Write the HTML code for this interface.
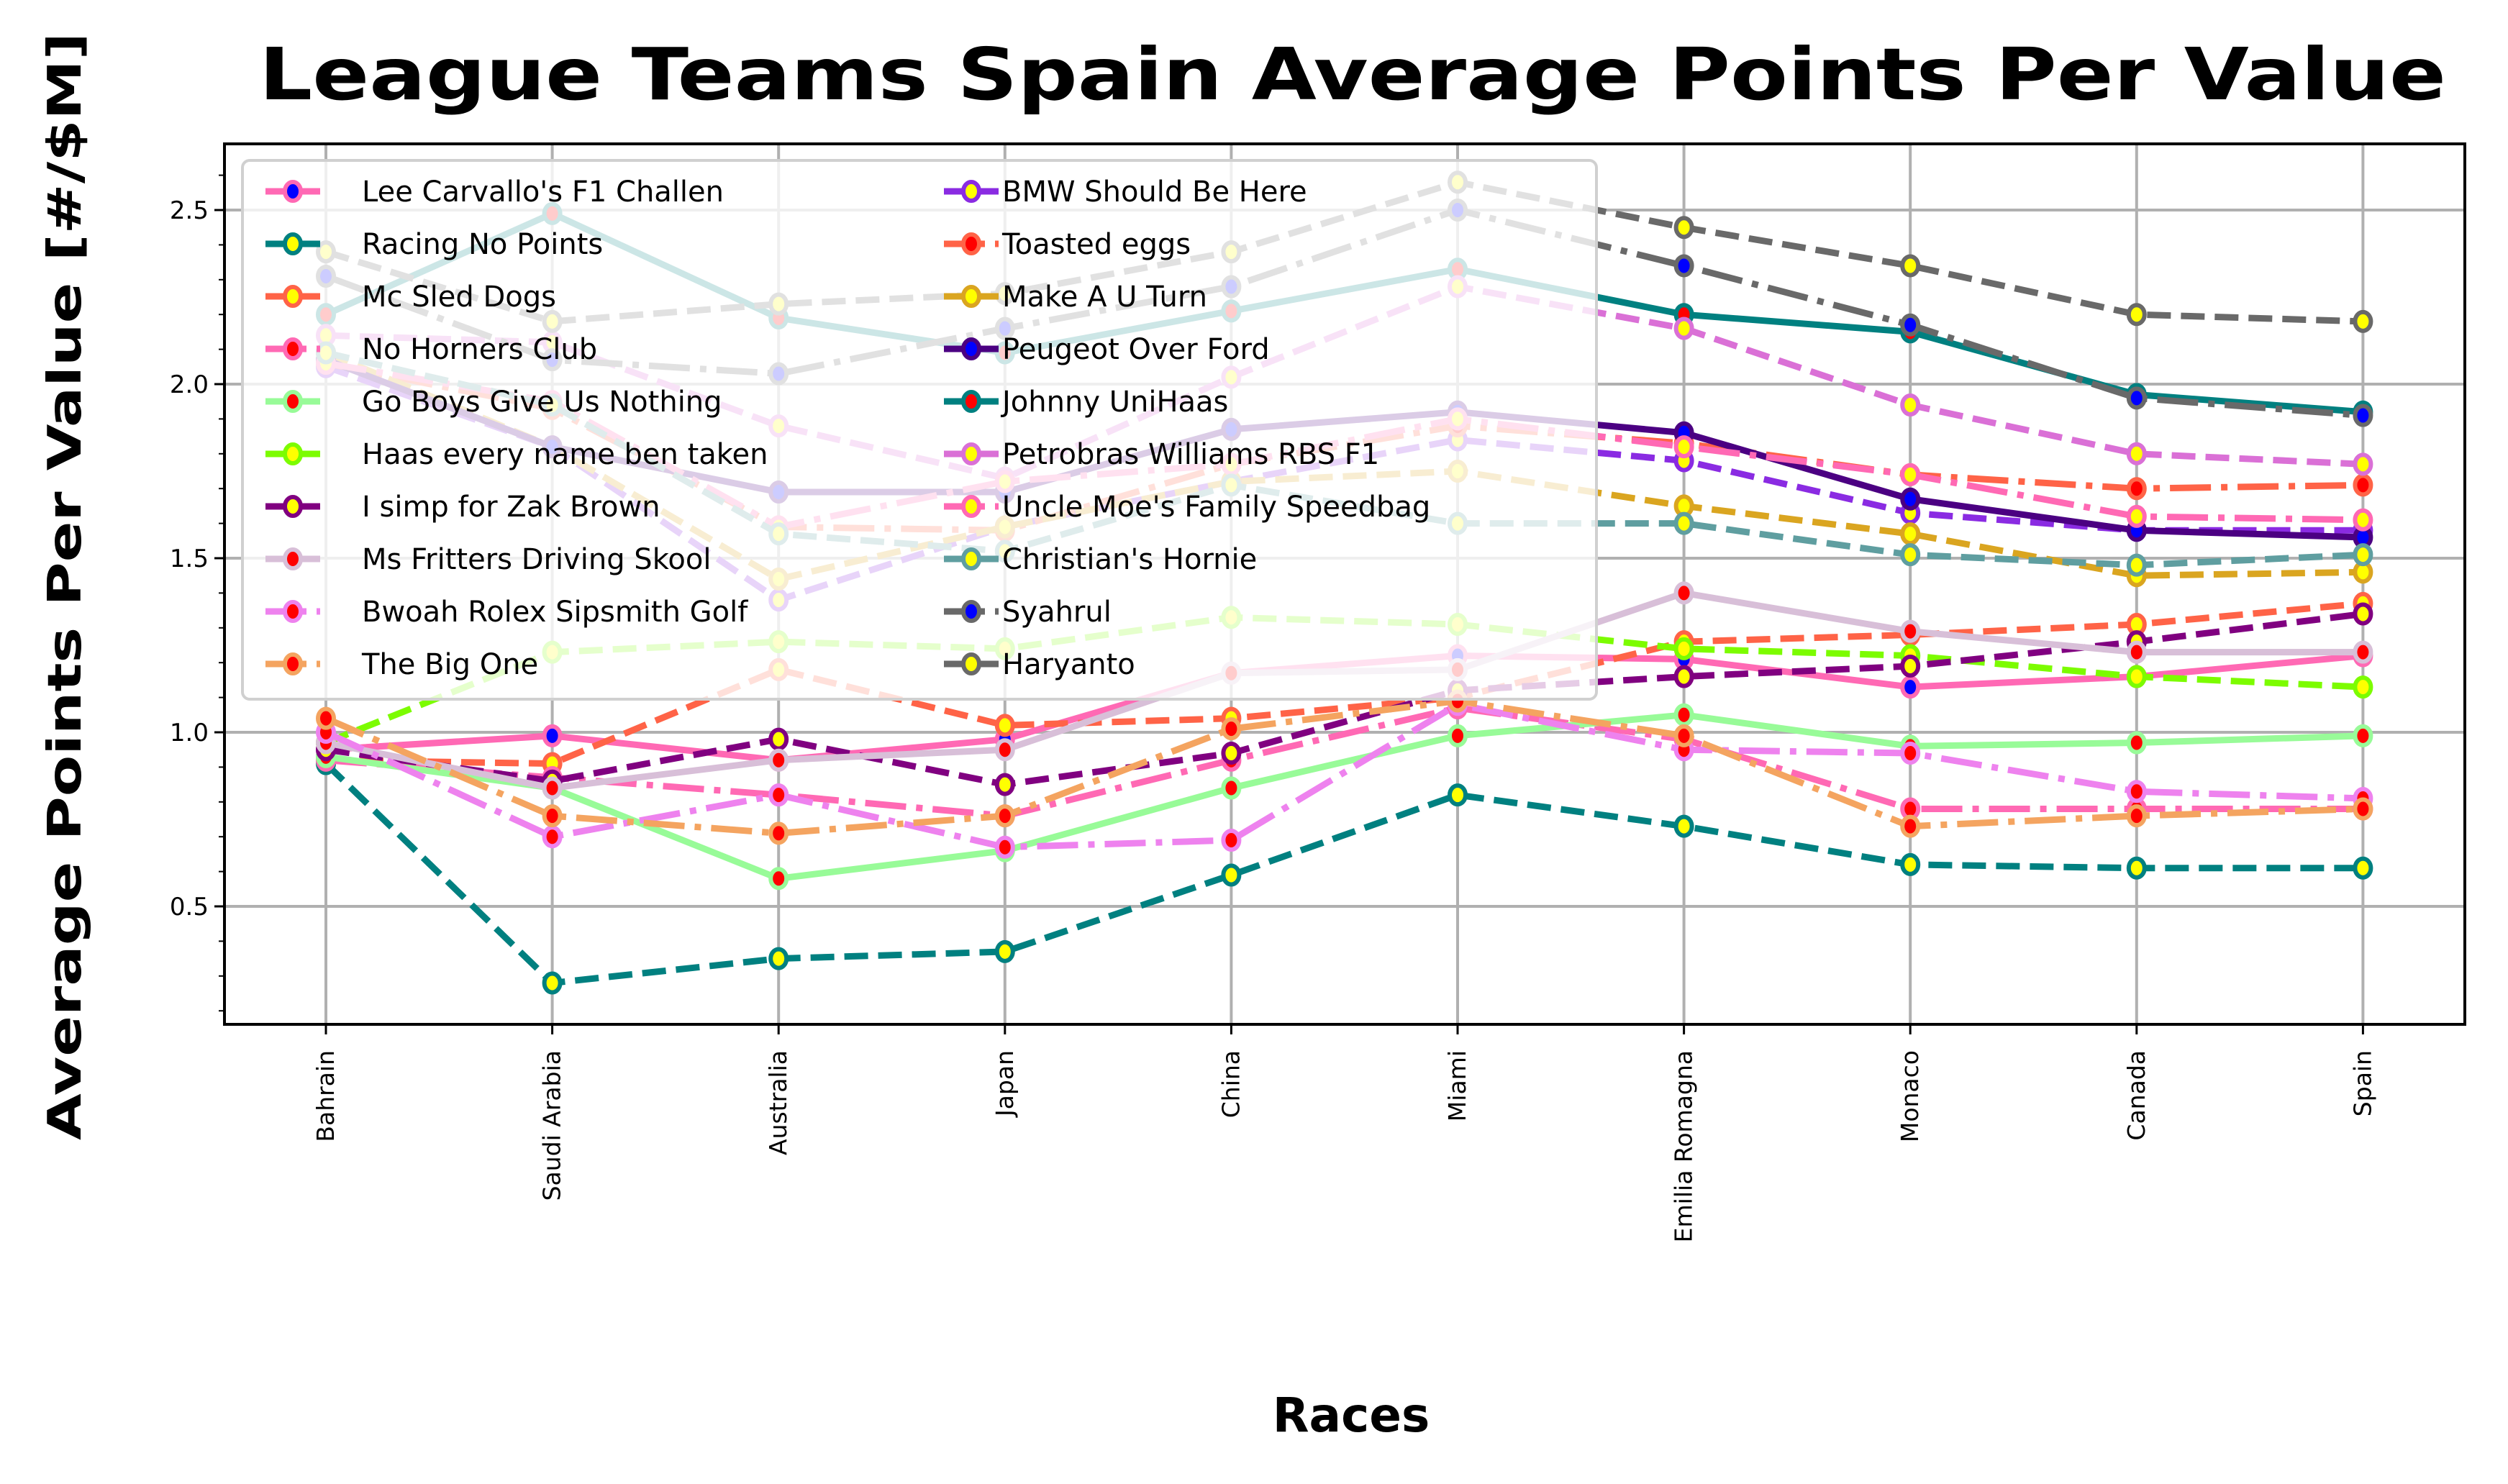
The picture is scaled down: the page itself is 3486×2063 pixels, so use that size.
<!DOCTYPE html>
<html><head><meta charset="utf-8"><style>
html,body{margin:0;padding:0;background:#fff}
svg{display:block;font-family:"DejaVu Sans","Liberation Sans",sans-serif}
</style></head><body>
<svg id="chart" width="3486" height="2063" viewBox="0 0 3486 2063" xmlns="http://www.w3.org/2000/svg">
<rect x="0" y="0" width="3486" height="2063" fill="#fff"/>
<text x="1880" y="138" font-size="100" font-weight="bold" text-anchor="middle" textLength="3040" lengthAdjust="spacingAndGlyphs">League Teams Spain Average Points Per Value</text>
<text transform="translate(112,815) rotate(-90)" font-size="64" font-weight="bold" text-anchor="middle" textLength="1540" lengthAdjust="spacingAndGlyphs">Average Points Per Value [#/$M]</text>
<text x="1878" y="1990" font-size="66" font-weight="bold" text-anchor="middle">Races</text>
<g id="grid"></g><g id="series"></g><g id="legend"></g><g id="axes"></g>
</svg>
<script>
const races = ["Bahrain","Saudi Arabia","Australia","Japan","China","Miami","Emilia Romagna","Monaco","Canada","Spain"];
const yTicks = [0.5,1.0,1.5,2.0,2.5];
const teamNames = ["Lee Carvallo's F1 Challen","Racing No Points","Mc Sled Dogs","No Horners Club","Go Boys Give Us Nothing","Haas every name ben taken","I simp for Zak Brown","Ms Fritters Driving Skool","Bwoah Rolex Sipsmith Golf","The Big One","BMW Should Be Here","Toasted eggs","Make A U Turn","Peugeot Over Ford","Johnny UniHaas","Petrobras Williams RBS F1","Uncle Moe's Family Speedbag","Christian's Hornie","Syahrul","Haryanto"];
const lee = [0.95,0.99,0.92,0.98,1.17,1.22,1.21,1.13,1.16,1.22];
const racingNoPoints = [0.91,0.28,0.35,0.37,0.59,0.82,0.73,0.62,0.61,0.61];
const mcSled = [0.92,0.91,1.18,1.02,1.04,1.10,1.26,1.28,1.31,1.37];
const noHorners = [0.92,0.87,0.82,0.76,0.92,1.07,0.98,0.78,0.78,0.78];
const goBoys = [0.93,0.84,0.58,0.66,0.84,0.99,1.05,0.96,0.97,0.99];
const haas = [0.97,1.23,1.26,1.24,1.33,1.31,1.24,1.22,1.16,1.13];
const simp = [0.95,0.86,0.98,0.85,0.94,1.12,1.16,1.19,1.26,1.34];
const fritters = [0.97,0.84,0.92,0.95,1.17,1.18,1.40,1.29,1.23,1.23];
const bwoah = [1.00,0.70,0.82,0.67,0.69,1.08,0.95,0.94,0.83,0.81];
const bigOne = [1.04,0.76,0.71,0.76,1.01,1.09,0.99,0.73,0.76,0.78];
const bmw = [2.05,1.82,1.38,1.59,1.72,1.84,1.78,1.63,1.58,1.58];
const toasted = [2.06,1.93,1.59,1.58,1.77,1.88,1.83,1.74,1.70,1.71];
const uturn = [2.09,1.82,1.44,1.59,1.72,1.75,1.65,1.57,1.45,1.46];
const peugeot = [2.07,1.82,1.69,1.69,1.87,1.92,1.86,1.67,1.58,1.56];
const johnny = [2.20,2.49,2.19,2.09,2.21,2.33,2.20,2.15,1.97,1.92];
const petrobras = [2.14,2.12,1.88,1.73,2.02,2.28,2.16,1.94,1.80,1.77];
const uncleMoe = [2.06,1.95,1.59,1.72,1.77,1.90,1.82,1.74,1.62,1.61];
const christian = [2.09,1.94,1.57,1.52,1.71,1.60,1.60,1.51,1.48,1.51];
const syahrul = [2.31,2.07,2.03,2.16,2.28,2.50,2.34,2.17,1.96,1.91];
const haryanto = [2.38,2.18,2.23,2.26,2.38,2.58,2.45,2.34,2.20,2.18];

const NS="http://www.w3.org/2000/svg";
const L=312,R=3426,T=200,B=1424;
const x0=453,dx=314.6;
const X=i=>x0+i*dx;
const Y=v=>1260-(v-0.5)*484;
function mk(tag,attrs,parent){const e=document.createElementNS(NS,tag);for(const k in attrs)e.setAttribute(k,attrs[k]);parent.appendChild(e);return e;}
const grid=document.getElementById('grid'),axes=document.getElementById('axes'),ser=document.getElementById('series'),leg=document.getElementById('legend');

races.forEach((r,i)=>{
  const g=mk('line',{x1:X(i),x2:X(i),y1:T,y2:B,stroke:'#b0b0b0','stroke-width':4},grid);
  
  
  const t=mk('line',{x1:X(i),x2:X(i),y1:B,y2:B+14,stroke:'#000','stroke-width':3},axes);
  
  
  const lb=mk('text',{transform:`translate(${X(i)+11},${B+36}) rotate(-90)`,'font-size':33,'text-anchor':'end'},axes);
  lb.textContent=r;
  
  
});
yTicks.forEach(v=>{
  const g=mk('line',{x1:L,x2:R,y1:Y(v),y2:Y(v),stroke:'#b0b0b0','stroke-width':4},grid);
  
  
  const t=mk('line',{x1:L-14,x2:L,y1:Y(v),y2:Y(v),stroke:'#000','stroke-width':3},axes);
  
  
  const lb=mk('text',{x:L-22,y:Y(v)+12,'font-size':34,'text-anchor':'end'},axes);
  lb.textContent=v.toFixed(1);
  
  
});
for(let k=2;k<=26;k++){const v=k/10;if(Y(v)>B||Y(v)<T)continue;if(k%5===0)continue;
  const t=mk('line',{x1:L-8,x2:L,y1:Y(v),y2:Y(v),stroke:'#000','stroke-width':2},axes);
  
  }
const frame=mk('rect',{x:L,y:T,width:R-L,height:B-T,fill:'none',stroke:'#000','stroke-width':4},axes);



const DASH='33 14', DD='57 14 9 14';
const data=[lee,racingNoPoints,mcSled,noHorners,goBoys,haas,simp,fritters,bwoah,bigOne,bmw,toasted,uturn,peugeot,johnny,petrobras,uncleMoe,christian,syahrul,haryanto];
const styles=[
 ['#ff69b4','',  '#0000ff','#ff69b4'],
 ['#008080',DASH,'#ffff00','#008080'],
 ['#ff6347',DASH,'#ffff00','#ff6347'],
 ['#ff69b4',DD,  '#ff0000','#ff69b4'],
 ['#98fb98','',  '#ff0000','#98fb98'],
 ['#7cfc00',DASH,'#ffff00','#7cfc00'],
 ['#800080',DASH,'#ffff00','#800080'],
 ['#d8bfd8','',  '#ff0000','#d8bfd8'],
 ['#ee82ee',DD,  '#ff0000','#ee82ee'],
 ['#f4a460',DD,  '#ff0000','#f4a460'],
 ['#8a2be2',DASH,'#ffff00','#8a2be2'],
 ['#ff6347',DD,  '#ff0000','#ff6347'],
 ['#daa520',DASH,'#ffff00','#daa520'],
 ['#4b0082','',  '#0000ff','#4b0082'],
 ['#008080','',  '#ff0000','#008080'],
 ['#da70d6',DASH,'#ffff00','#da70d6'],
 ['#ff69b4',DD,  '#ffff00','#ff69b4'],
 ['#5f9ea0',DASH,'#ffff00','#5f9ea0'],
 ['#696969',DD,  '#0000ff','#696969'],
 ['#696969',DASH,'#ffff00','#696969']];
data.forEach((arr,s)=>{
  const [c,d,mf,me]=styles[s];
  const g=mk('g',{},ser);
  
  
  const p=mk('polyline',{points:arr.map((v,i)=>X(i)+','+Y(v)).join(' '),fill:'none',stroke:c,'stroke-width':9,'stroke-dasharray':d,'stroke-linejoin':'round'},g);
  
  
  arr.forEach((v,i)=>{
    const m=mk('ellipse',{cx:X(i),cy:Y(v),rx:11,ry:13,fill:mf,stroke:me,'stroke-width':6},g);
    
    
  });
});

const lb=mk('rect',{x:337,y:223,width:1882,height:749,rx:10,fill:'#fff','fill-opacity':0.8,stroke:'#d0d0d0','stroke-width':4},leg);


teamNames.forEach((n,s)=>{
  const col=s<10?0:1,row=s%10;
  const lx=col?1312:369, ty=266+row*73;
  const [c,d,mf,me]=styles[s];
  const g=mk('g',{},leg);
  
  
  mk('line',{x1:lx,x2:lx+76,y1:ty,y2:ty,stroke:c,'stroke-width':9,'stroke-dasharray':d},g);
  mk('ellipse',{cx:lx+38,cy:ty,rx:11,ry:13,fill:mf,stroke:me,'stroke-width':6},g);
  const t=mk('text',{x:col?1393:503,y:ty+14,'font-size':40},g);
  t.textContent=n;
});
</script>
</body></html>
